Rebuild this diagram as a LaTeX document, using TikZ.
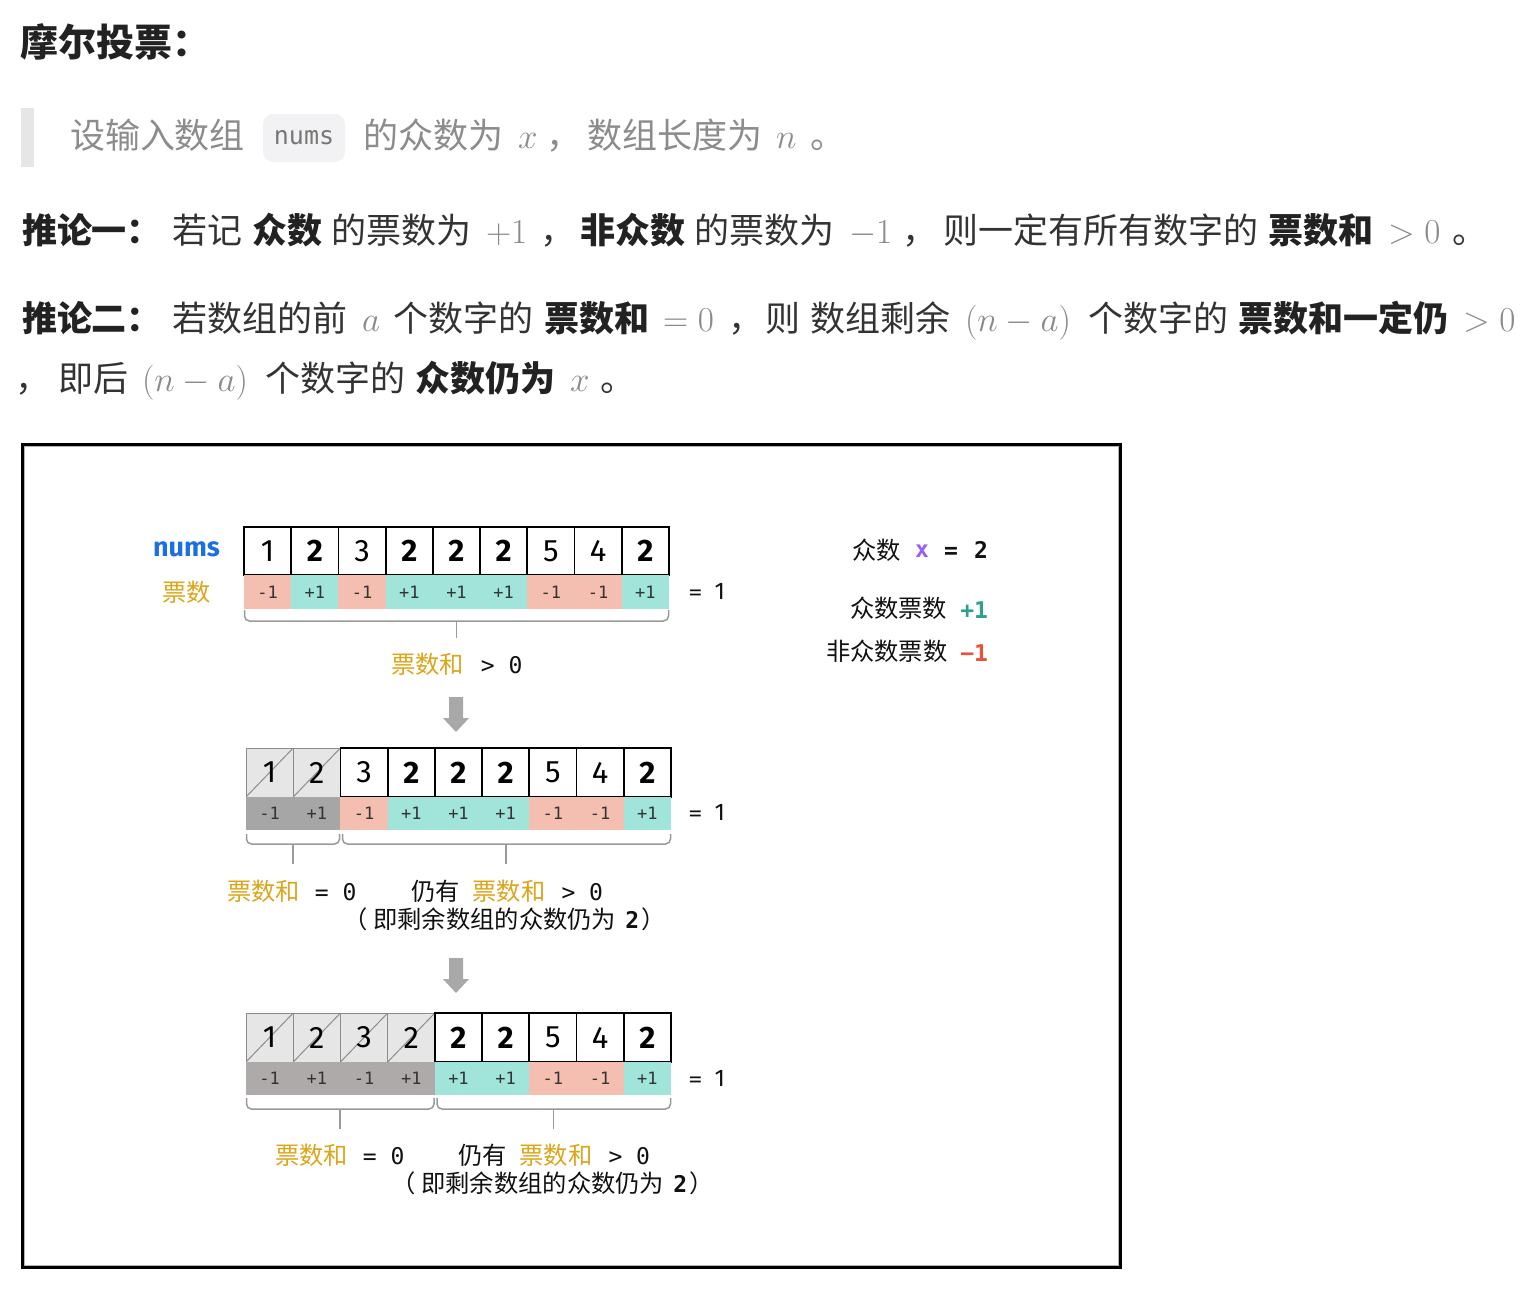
\RequirePackage{fix-cm}
\documentclass[tikz,border=0pt]{standalone}
\usepackage[no-math]{fontspec}
\newfontfamily\cjkf{Noto Sans CJK SC}
\newfontfamily\firaf{Fira Sans}
\newfontfamily\monof{DejaVu Sans Mono}
\newcommand\fsz[1]{\fontsize{#1}{#1}\selectfont}
\usetikzlibrary{calc}
\definecolor{titlecol}{HTML}{222222}
\definecolor{bodytxt}{HTML}{333333}
\definecolor{boldtxt}{HTML}{222222}
\definecolor{mathgray}{HTML}{8A8A8A}
\definecolor{quotegray}{HTML}{8C8C8C}
\definecolor{barcol}{HTML}{E6E6E6}
\definecolor{codebg}{HTML}{F2F2F4}
\definecolor{codetxt}{HTML}{777777}
\definecolor{votep}{HTML}{F4BEB0}
\definecolor{votet}{HTML}{A0E4DA}
\definecolor{voteg}{HTML}{A6A6A6}
\definecolor{voteh}{HTML}{AEAAA9}
\definecolor{crossfill}{HTML}{E6E6E6}
\definecolor{crossgray}{HTML}{8C8C8C}
\definecolor{votetxt}{HTML}{333333}
\definecolor{orng}{HTML}{DCA51A}
\definecolor{numsblue}{HTML}{1C6FE0}
\definecolor{purp}{HTML}{9B5DF7}
\definecolor{legteal}{HTML}{2BA08E}
\definecolor{legred}{HTML}{E5543A}
\definecolor{arrowgray}{HTML}{A8A8A8}
\definecolor{bracegray}{HTML}{9A9A9A}
\definecolor{diagtxt}{HTML}{111111}
\begin{document}
\begin{tikzpicture}[x=1pt,y=-1pt,
  seg/.style={anchor=base west, inner sep=0pt, outer sep=0pt},
  body/.style={seg, font=\cjkf\fsz{35}, text=bodytxt},
  bodyb/.style={seg, font=\cjkf\bfseries\fsz{35}, text=boldtxt},
  bodym/.style={seg, font=\fsz{35}, text=mathgray},
  quote/.style={seg, font=\cjkf\fsz{35}, text=quotegray},
  quotem/.style={seg, font=\fsz{35}, text=quotegray},
  codebox/.style={rounded corners=10pt, fill=codebg, minimum width=82pt, minimum height=48pt, inner sep=0pt, font=\monof\fsz{25}, text=codetxt},
  celln/.style={minimum width=47.22pt, inner sep=0pt, draw=black, line width=1.8pt, fill=white, font=\firaf\fsz{31}, text=black},
  cellx/.style={minimum width=47.22pt, inner sep=0pt, draw=crossgray, line width=1pt, fill=crossfill, font=\firaf\fsz{31}, text=black,
     path picture={\draw[crossgray, line width=1pt] (path picture bounding box.south west) -- (path picture bounding box.north east);}},
  vote/.style={minimum width=47.4pt, inner sep=0pt, font=\monof\fsz{17}, text=votetxt},
  lab/.style={seg, font=\cjkf\fsz{24.3}, text=diagtxt},
  legmono/.style={seg, font=\monof\bfseries\fsz{23}},
  bracestyle/.style={draw=bracegray, line width=1.5pt, rounded corners=5pt},
  arrowshape/.style={fill=arrowgray}
]
\useasboundingbox (0,0) rectangle (1524,1298);
\fill[white] (0,0) rectangle (1524,1298);

% ---------- text part ----------
\node[seg, font=\cjkf\bfseries\fsz{38}, text=titlecol] (title) at (20,57) {摩尔投票：};

\fill[barcol] (21,108) rectangle (34,167);
\node[quote] (q1) at (70,148) {设输入数组};
\node[codebox] (code) at (304,138) {nums};
\node[quote] (q2) at (363,148) {的众数为};
\node[quotem] (q3) at (518,148) {$x$};
\node[quote] (q4) at (546,148) {，};
\node[quote] (q5) at (587,148) {数组长度为};
\node[quotem] (q6) at (776,148) {$n$};
\node[quote] (q7) at (810,148) {。};

\node[bodyb] (a1) at (22,243) {推论一：};
\node[body]  (a2) at (172,243) {若记};
\node[bodyb] (a3) at (252,243) {众数};
\node[body]  (a4) at (331,243) {的票数为};
\node[bodym] (a5) at (486,243) {$+1$};
\node[body]  (a6) at (540,243) {，};
\node[bodyb] (a7) at (580,243) {非众数};
\node[body]  (a8) at (694,243) {的票数为};
\node[bodym] (a9) at (849,243) {$-1$};
\node[body]  (a10) at (902,243) {，};
\node[body]  (a11) at (943,243) {则一定有所有数字的};
\node[bodyb] (a12) at (1268,243) {票数和};
\node[bodym] (a13) at (1388,243) {$>0$};
\node[body]  (a14) at (1452,243) {。};

\node[bodyb] (b1) at (22,331) {推论二：};
\node[body]  (b2) at (172,331) {若数组的前};
\node[bodym] (b3) at (362,331) {$a$};
\node[body]  (b4) at (393,331) {个数字的};
\node[bodyb] (b5) at (544,331) {票数和};
\node[bodym] (b6) at (663,331) {$=0$};
\node[body]  (b7) at (728,331) {，};
\node[body]  (b8) at (765,331) {则};
\node[body]  (b9) at (810,331) {数组剩余};
\node[bodym] (b10) at (965,331) {$(n-a)$};
\node[body]  (b11) at (1088,331) {个数字的};
\node[bodyb] (b12) at (1238,331) {票数和一定仍};
\node[bodym] (b13) at (1463,331) {$>0$};

\node[body]  (c1) at (16,391) {，};
\node[body]  (c2) at (58,391) {即后};
\node[bodym] (c3) at (142,391) {$(n-a)$};
\node[body]  (c4) at (265,391) {个数字的};
\node[bodyb] (c5) at (415,391) {众数仍为};
\node[bodym] (c6) at (570,391) {$x$};
\node[body]  (c7) at (600,391) {。};

% ---------- figure frame ----------
\draw[line width=3pt] (22,444) rectangle (1120,1267);
\draw[gray!60, line width=0.8pt] (24,446) rectangle (1118,1265);

% ---------- row 1 ----------
\node[seg, font=\firaf\bfseries\fsz{27}, text=numsblue] (numslab) at (153,556) {nums};
\node[seg, font=\cjkf\fsz{24.3}, text=orng] (piaoshu) at (162,601) {票数};
\foreach \v [count=\i] in {1,2,3,2,2,2,5,4,2}{
  \node[celln, minimum height=48pt] (ra\i) at ({244+(\i-0.5)*47.22},551) {\ifnum\v=2 \bfseries\fi\v};
}
\foreach \w/\c [count=\i] in {-1/p,+1/t,-1/p,+1/t,+1/t,+1/t,-1/p,-1/p,+1/t}{
  \node[vote, fill=vote\c, minimum height=34pt] (rav\i) at ({244+(\i-0.5)*47.22},592) {\w};
}
\node[seg, text=diagtxt] (eqa) at (689,599) {{\monof\fsz{21}=}\hspace{13pt}{\firaf\fsz{24}1}};
\draw[bracestyle] (244.5,610) -- (244.5,621) -- (668.5,621) -- (668.5,610);
\draw[bracestyle] (456.5,621) -- (456.5,638);
\node[lab] (suma) at (391,673) {\textcolor{orng}{票数和}\hspace{17pt}{\monof\fsz{23}> 0}};

% legend
\node[lab] (lg1) at (852,559) {众数};
\node[legmono, text=purp] (lgx) at (915,557) {x};
\node[legmono, text=diagtxt] (lgeq) at (944,558) {=};
\node[legmono, text=diagtxt] (lgtwo) at (974,558) {2};
\node[lab] (lg2) at (850,617) {众数票数};
\node[legmono, anchor=base east, text=legteal] (lgp) at (988,618) {+1};
\node[lab] (lg3) at (826,660) {非众数票数};
\node[legmono, anchor=base east, text=legred] (lgm) at (988,661) {−1};

% arrow 1
\fill[arrowshape] (449,697) -- (463,697) -- (463,718) -- (469,718) -- (456,732) -- (443,718) -- (449,718) -- cycle;

% ---------- row 2 ----------
\foreach \v [count=\i] in {1,2}{
  \node[cellx, minimum height=49pt] (rb\i) at ({246+(\i-0.5)*47.22},772.5) {\v};
}
\foreach \v [count=\i from 3] in {3,2,2,2,5,4,2}{
  \node[celln, minimum height=49pt] (rb\i) at ({246+(\i-0.5)*47.22},772.5) {\ifnum\v=2 \bfseries\fi\v};
}
\foreach \w/\c [count=\i] in {-1/g,+1/g,-1/p,+1/t,+1/t,+1/t,-1/p,-1/p,+1/t}{
  \node[vote, fill=vote\c, minimum height=33pt] (rbv\i) at ({246+(\i-0.5)*47.22},813.5) {\w};
}
\node[seg, text=diagtxt] (eqb) at (689,820) {{\monof\fsz{21}=}\hspace{13pt}{\firaf\fsz{24}1}};
\draw[bracestyle] (246.5,834) -- (246.5,844) -- (339.5,844) -- (339.5,834);
\draw[bracestyle] (293,844) -- (293,864);
\draw[bracestyle] (342.5,834) -- (342.5,844) -- (670.5,844) -- (670.5,834);
\draw[bracestyle] (506,844) -- (506,864);
\node[lab] (sumb1) at (227,900) {\textcolor{orng}{票数和}\hspace{15pt}{\monof\fsz{23}= 0}};
\node[lab] (sumb2) at (411,900) {仍有\hspace{13pt}\textcolor{orng}{票数和}\hspace{16pt}{\monof\fsz{23}> 0}};
\node[lab] (sumb3) at (343,928) {（\hspace{6pt}即剩余数组的众数仍为\hspace{9pt}{\monof\bfseries\fsz{23}2}\hspace{2pt}）};

% arrow 2
\fill[arrowshape] (449,958) -- (463,958) -- (463,979) -- (469,979) -- (456,993) -- (443,979) -- (449,979) -- cycle;

% ---------- row 3 ----------
\foreach \v [count=\i] in {1,2,3,2}{
  \node[cellx, minimum height=49pt] (rc\i) at ({246+(\i-0.5)*47.22},1037.5) {\v};
}
\foreach \v [count=\i from 5] in {2,2,5,4,2}{
  \node[celln, minimum height=49pt] (rc\i) at ({246+(\i-0.5)*47.22},1037.5) {\ifnum\v=2 \bfseries\fi\v};
}
\foreach \w/\c [count=\i] in {-1/h,+1/h,-1/h,+1/h,+1/t,+1/t,-1/p,-1/p,+1/t}{
  \node[vote, fill=vote\c, minimum height=33pt] (rcv\i) at ({246+(\i-0.5)*47.22},1078.5) {\w};
}
\node[seg, text=diagtxt] (eqc) at (689,1086) {{\monof\fsz{21}=}\hspace{13pt}{\firaf\fsz{24}1}};
\draw[bracestyle] (246.5,1098) -- (246.5,1109) -- (434,1109) -- (434,1098);
\draw[bracestyle] (340,1109) -- (340,1129);
\draw[bracestyle] (437,1098) -- (437,1109) -- (670.5,1109) -- (670.5,1098);
\draw[bracestyle] (553.5,1109) -- (553.5,1129);
\node[lab] (sumc1) at (275,1164) {\textcolor{orng}{票数和}\hspace{15pt}{\monof\fsz{23}= 0}};
\node[lab] (sumc2) at (458,1164) {仍有\hspace{13pt}\textcolor{orng}{票数和}\hspace{16pt}{\monof\fsz{23}> 0}};
\node[lab] (sumc3) at (391,1192) {（\hspace{6pt}即剩余数组的众数仍为\hspace{9pt}{\monof\bfseries\fsz{23}2}\hspace{2pt}）};
\end{tikzpicture}
\end{document}
